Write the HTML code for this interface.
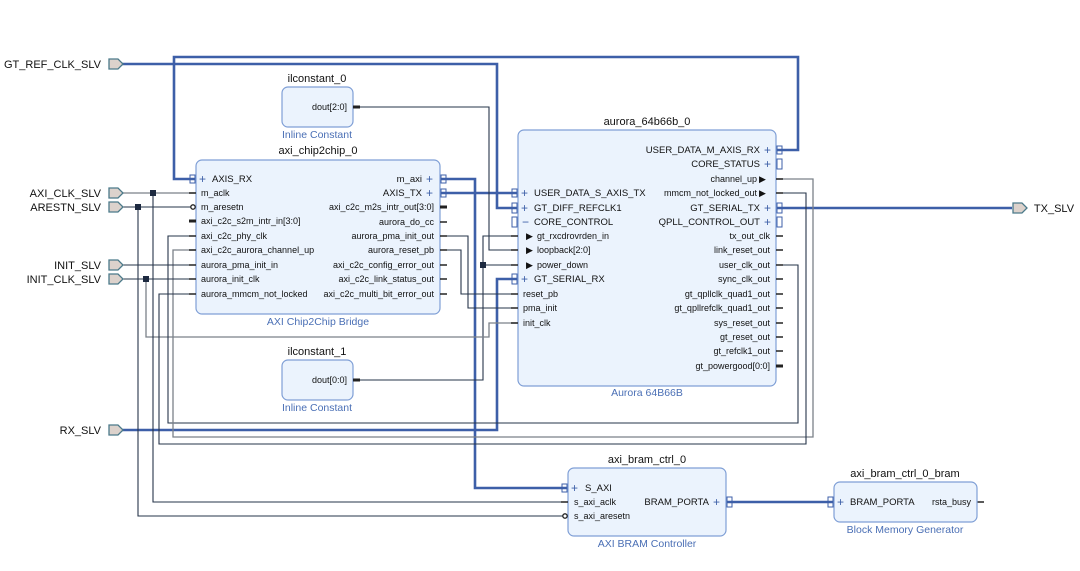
<!DOCTYPE html>
<html><head><meta charset="utf-8"><style>
html,body{margin:0;padding:0;background:#fff;}
svg{display:block;}
text{font-family:"Liberation Sans",sans-serif;}
.t{font-size:11px;fill:#111;text-anchor:middle}
.s{font-size:10.5px;fill:#4a6fb5;text-anchor:middle}
.p{font-size:9px;fill:#111}
.b{font-size:9.5px;fill:#111}
.pl{font-size:11px;fill:#111;text-anchor:end}
.box{fill:#ebf3fd;stroke:#7f9fd6;stroke-width:1.2}
.bw{fill:none;stroke:#3d5fa8;stroke-width:2.6}
.dw{fill:none;stroke:#26344a;stroke-width:1.1}
.gw{fill:none;stroke:#7b8189;stroke-width:1.3}
.port{fill:#dcd2cc;stroke:#4b7a8a;stroke-width:1.3}
.stub{stroke:#222;stroke-width:1.5}
.bus{stroke:#222;stroke-width:3}
.pl2{fill:none;stroke:#3d5fa8;stroke-width:1}
</style></head><body>
<svg width="1080" height="571" viewBox="0 0 1080 571" xmlns="http://www.w3.org/2000/svg">
<!-- wires -->
<polyline class="bw" points="776,150 798,150 798,57 174,57 174,179 196,179"/>
<polyline class="bw" points="122,64 497,64 497,208 518,208"/>
<polyline class="bw" points="440,179 475,179 475,488 568,488"/>
<polyline class="bw" points="440,193 518,193"/>
<polyline class="bw" points="122,430 497,430 497,279 518,279"/>
<polyline class="bw" points="776,208 1012,208"/>
<polyline class="bw" points="726,502 834,502"/>
<polyline class="dw" points="353,107 489,107 489,250 518,250"/>
<polyline class="dw" points="353,380 483,380 483,236 518,236"/>
<polyline class="dw" points="483,265 518,265"/>
<rect x="480" y="262" width="6" height="6" fill="#1d2a40"/>
<polyline class="dw" points="440,236 468,236 468,308 518,308"/>
<polyline class="dw" points="440,250 461,250 461,294 518,294"/>
<polyline class="gw" points="518,323 489,323 489,337 146,337 146,279"/>
<polyline class="dw" points="776,265 798,265 798,423 168,423 168,236 196,236"/>
<polyline class="gw" points="776,179 813,179 813,437 173,437 173,250 196,250"/>
<polyline class="dw" points="776,193 806,193 806,444 159,444 159,294 196,294"/>
<polyline class="gw" points="122,193 196,193"/>
<polyline class="dw" points="153,193 153,502 568,502"/>
<polyline class="dw" points="122,207 196,207"/>
<polyline class="dw" points="138,207 138,516 568,516"/>
<polyline class="dw" points="122,265 196,265"/>
<polyline class="dw" points="122,279 196,279"/>
<rect x="150" y="190" width="6" height="6" fill="#1d2a40"/>
<rect x="135" y="204" width="6" height="6" fill="#1d2a40"/>
<rect x="143" y="276" width="6" height="6" fill="#1d2a40"/>
<line class="stub" x1="977" y1="502" x2="984" y2="502"/>

<!-- external ports -->
<g>
<path class="port" d="M109,59 h9 l5,5 l-5,5 h-9 z"/>
<path class="port" d="M109,188 h9 l5,5 l-5,5 h-9 z"/>
<path class="port" d="M109,202 h9 l5,5 l-5,5 h-9 z"/>
<path class="port" d="M109,260 h9 l5,5 l-5,5 h-9 z"/>
<path class="port" d="M109,274 h9 l5,5 l-5,5 h-9 z"/>
<path class="port" d="M109,425 h9 l5,5 l-5,5 h-9 z"/>
<path class="port" d="M1013,203 h9 l5,5 l-5,5 h-9 z"/>
<text class="pl" x="101" y="68">GT_REF_CLK_SLV</text>
<text class="pl" x="101" y="197">AXI_CLK_SLV</text>
<text class="pl" x="101" y="211">ARESTN_SLV</text>
<text class="pl" x="101" y="269">INIT_SLV</text>
<text class="pl" x="101" y="283">INIT_CLK_SLV</text>
<text class="pl" x="101" y="434">RX_SLV</text>
<text class="t" x="1054" y="212">TX_SLV</text>
</g>

<!-- ilconstant_0 -->
<text class="t" x="317" y="82">ilconstant_0</text>
<rect class="box" x="282" y="87" width="71" height="40" rx="6"/>
<text class="p" x="347" y="110" text-anchor="end">dout[2:0]</text>
<line class="bus" x1="353" y1="107" x2="360" y2="107"/>
<text class="s" x="317" y="138">Inline Constant</text>

<!-- ilconstant_1 -->
<text class="t" x="317" y="355">ilconstant_1</text>
<rect class="box" x="282" y="360" width="71" height="40" rx="6"/>
<text class="p" x="347" y="383" text-anchor="end">dout[0:0]</text>
<line class="bus" x1="353" y1="380" x2="360" y2="380"/>
<text class="s" x="317" y="411">Inline Constant</text>

<!-- chip2chip -->
<text class="t" x="318" y="154">axi_chip2chip_0</text>
<rect class="box" x="196" y="160" width="244" height="154" rx="6"/>
<text class="s" x="318" y="325">AXI Chip2Chip Bridge</text>
<g class="b">
<text x="212" y="182">AXIS_RX</text>
<text class="p" x="201" y="196">m_aclk</text>
<text class="p" x="201" y="210">m_aresetn</text>
<text class="p" x="201" y="224">axi_c2c_s2m_intr_in[3:0]</text>
<text class="p" x="201" y="239">axi_c2c_phy_clk</text>
<text class="p" x="201" y="253">axi_c2c_aurora_channel_up</text>
<text class="p" x="201" y="268">aurora_pma_init_in</text>
<text class="p" x="201" y="282">aurora_init_clk</text>
<text class="p" x="201" y="297">aurora_mmcm_not_locked</text>
</g>
<g text-anchor="end">
<text class="b" x="422" y="182">m_axi</text>
<text class="b" x="422" y="196">AXIS_TX</text>
<text class="p" x="434" y="210">axi_c2c_m2s_intr_out[3:0]</text>
<text class="p" x="434" y="225">aurora_do_cc</text>
<text class="p" x="434" y="239">aurora_pma_init_out</text>
<text class="p" x="434" y="253">aurora_reset_pb</text>
<text class="p" x="434" y="268">axi_c2c_config_error_out</text>
<text class="p" x="434" y="282">axi_c2c_link_status_out</text>
<text class="p" x="434" y="297">axi_c2c_multi_bit_error_out</text>
</g>
<g fill="#3d5fa8" font-size="12" font-family="Liberation Sans">
<text x="199" y="183">+</text><text x="426" y="183">+</text><text x="426" y="197">+</text>
</g>
<g class="pl2"><rect x="190" y="175" width="5" height="8"/><rect x="441" y="175" width="5" height="8"/><rect x="441" y="189" width="5" height="8"/></g>
<line class="stub" x1="189" y1="193" x2="196" y2="193"/>
<circle cx="193" cy="207" r="2.2" fill="#fff" stroke="#222" stroke-width="1.3"/>
<line class="bus" x1="189" y1="221" x2="196" y2="221"/>
<line class="stub" x1="189" y1="236" x2="196" y2="236"/>
<line class="stub" x1="189" y1="250" x2="196" y2="250"/>
<line class="stub" x1="189" y1="265" x2="196" y2="265"/>
<line class="stub" x1="189" y1="279" x2="196" y2="279"/>
<line class="stub" x1="189" y1="294" x2="196" y2="294"/>
<line class="bus" x1="440" y1="207" x2="447" y2="207"/>
<line class="stub" x1="440" y1="222" x2="447" y2="222"/>
<line class="stub" x1="440" y1="236" x2="447" y2="236"/>
<line class="stub" x1="440" y1="250" x2="447" y2="250"/>
<line class="stub" x1="440" y1="265" x2="447" y2="265"/>
<line class="stub" x1="440" y1="279" x2="447" y2="279"/>
<line class="stub" x1="440" y1="294" x2="447" y2="294"/>

<!-- aurora -->
<text class="t" x="647" y="125">aurora_64b66b_0</text>
<rect class="box" x="518" y="130" width="258" height="256" rx="6"/>
<text class="s" x="647" y="396">Aurora 64B66B</text>
<g fill="#3d5fa8" font-size="12" font-family="Liberation Sans">
<text x="521" y="197">+</text><text x="521" y="212">+</text><text x="522" y="226">−</text><text x="521" y="283">+</text>
<text x="764" y="154">+</text><text x="764" y="168">+</text><text x="764" y="212">+</text><text x="764" y="226">+</text>
</g>
<text class="b" x="534" y="196">USER_DATA_S_AXIS_TX</text>
<text class="b" x="534" y="211">GT_DIFF_REFCLK1</text>
<text class="b" x="534" y="225">CORE_CONTROL</text>
<text class="b" x="534" y="282">GT_SERIAL_RX</text>
<g font-size="9" fill="#111">
<text x="526" y="239">▶</text><text x="537" y="239">gt_rxcdrovrden_in</text>
<text x="526" y="253">▶</text><text x="537" y="253">loopback[2:0]</text>
<text x="526" y="268">▶</text><text x="537" y="268">power_down</text>
<text x="523" y="297">reset_pb</text>
<text x="523" y="311">pma_init</text>
<text x="523" y="326">init_clk</text>
</g>
<g text-anchor="end">
<text class="b" x="760" y="153">USER_DATA_M_AXIS_RX</text>
<text class="b" x="760" y="167">CORE_STATUS</text>
<text class="p" x="757" y="182">channel_up</text>
<text class="p" x="757" y="196">mmcm_not_locked_out</text>
<text class="b" x="760" y="211">GT_SERIAL_TX</text>
<text class="b" x="760" y="225">QPLL_CONTROL_OUT</text>
<text class="p" x="770" y="239">tx_out_clk</text>
<text class="p" x="770" y="253">link_reset_out</text>
<text class="p" x="770" y="268">user_clk_out</text>
<text class="p" x="770" y="282">sync_clk_out</text>
<text class="p" x="770" y="297">gt_qpllclk_quad1_out</text>
<text class="p" x="770" y="311">gt_qpllrefclk_quad1_out</text>
<text class="p" x="770" y="326">sys_reset_out</text>
<text class="p" x="770" y="340">gt_reset_out</text>
<text class="p" x="770" y="354">gt_refclk1_out</text>
<text class="p" x="770" y="369">gt_powergood[0:0]</text>
</g>
<g font-size="9" fill="#111"><text x="759" y="182">▶</text><text x="759" y="196">▶</text></g>
<g class="pl2">
<rect x="512" y="189" width="5" height="8"/><rect x="512" y="203" width="5" height="10"/><rect x="512" y="217" width="5" height="10"/><rect x="512" y="274" width="5" height="10"/>
<rect x="777" y="146" width="5" height="8"/><rect x="777" y="159" width="5" height="10"/><rect x="777" y="203" width="5" height="10"/><rect x="777" y="217" width="5" height="10"/>
</g>
<g class="stub">
<line x1="511" y1="294" x2="518" y2="294"/><line x1="511" y1="308" x2="518" y2="308"/><line x1="511" y1="323" x2="518" y2="323"/>
<line x1="511" y1="236" x2="518" y2="236"/><line x1="511" y1="250" x2="518" y2="250"/><line x1="511" y1="265" x2="518" y2="265"/>
<line x1="776" y1="179" x2="783" y2="179"/><line x1="776" y1="193" x2="783" y2="193"/>
<line x1="776" y1="236" x2="783" y2="236"/><line x1="776" y1="250" x2="783" y2="250"/><line x1="776" y1="265" x2="783" y2="265"/>
<line x1="776" y1="279" x2="783" y2="279"/><line x1="776" y1="294" x2="783" y2="294"/><line x1="776" y1="308" x2="783" y2="308"/>
<line x1="776" y1="323" x2="783" y2="323"/><line x1="776" y1="337" x2="783" y2="337"/><line x1="776" y1="351" x2="783" y2="351"/>
</g>
<line class="bus" x1="776" y1="366" x2="783" y2="366"/>

<!-- bram ctrl -->
<text class="t" x="647" y="463">axi_bram_ctrl_0</text>
<rect class="box" x="568" y="468" width="158" height="68" rx="6"/>
<text class="s" x="647" y="547">AXI BRAM Controller</text>
<text fill="#3d5fa8" font-size="12" x="571" y="492" font-family="Liberation Sans">+</text>
<text class="b" x="585" y="491">S_AXI</text>
<text class="p" x="574" y="505">s_axi_aclk</text>
<text class="p" x="574" y="519">s_axi_aresetn</text>
<text class="b" x="709" y="505" text-anchor="end">BRAM_PORTA</text>
<text fill="#3d5fa8" font-size="12" x="713" y="506" font-family="Liberation Sans">+</text>
<rect class="pl2" x="562" y="484" width="5" height="8"/>
<rect class="pl2" x="727" y="497" width="5" height="10"/>
<line class="stub" x1="561" y1="502" x2="568" y2="502"/>
<circle cx="565" cy="516" r="2.2" fill="#fff" stroke="#222" stroke-width="1.3"/>

<!-- bram -->
<text class="t" x="905" y="477">axi_bram_ctrl_0_bram</text>
<rect class="box" x="834" y="482" width="143" height="40" rx="6"/>
<text class="s" x="905" y="533">Block Memory Generator</text>
<rect class="pl2" x="828" y="497" width="5" height="10"/>
<text fill="#3d5fa8" font-size="12" x="837" y="506" font-family="Liberation Sans">+</text>
<text class="b" x="850" y="505">BRAM_PORTA</text>
<text class="p" x="971" y="505" text-anchor="end">rsta_busy</text>
</svg>
</body></html>
